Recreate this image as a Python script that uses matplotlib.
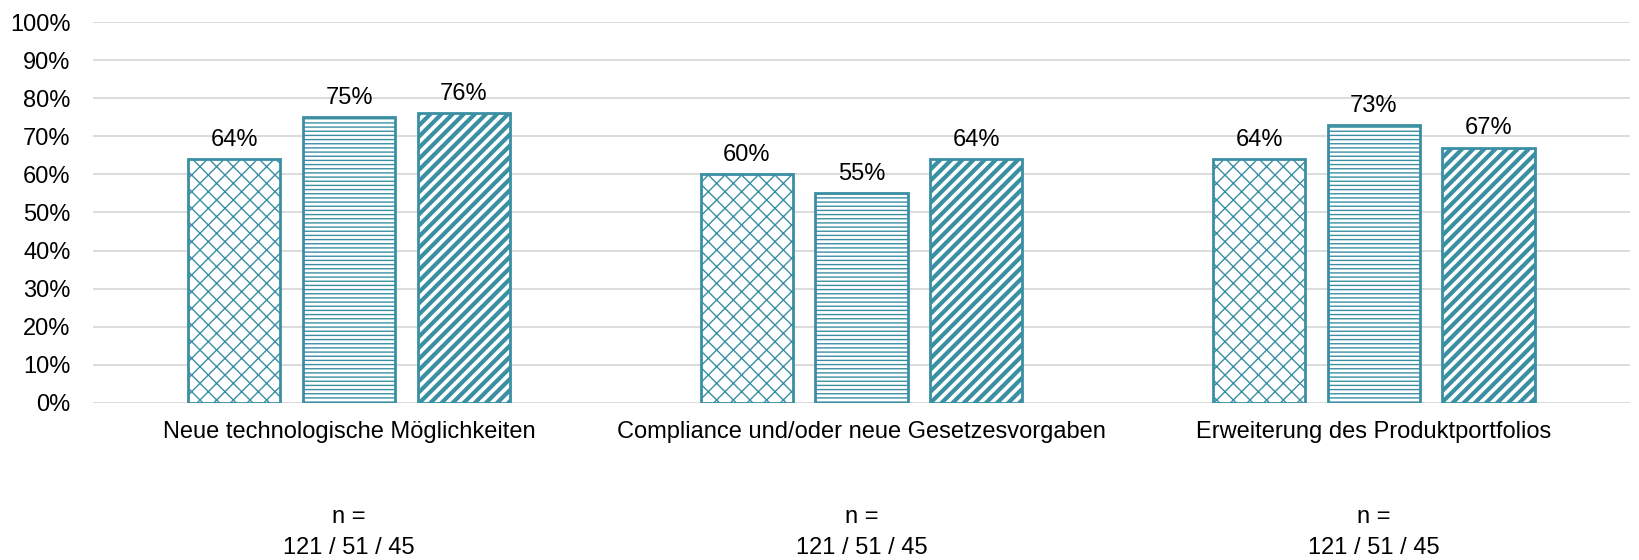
import matplotlib.pyplot as plt
import numpy as np

categories = ["Neue technologische Möglichkeiten",
              "Compliance und/oder neue Gesetzesvorgaben",
              "Erweiterung des Produktportfolios"]
series_a = [64, 60, 64]
series_b = [75, 55, 73]
series_c = [76, 64, 67]
n_labels = ["n =\n121 / 51 / 45", "n =\n121 / 51 / 45", "n =\n121 / 51 / 45"]

teal = "#3A8FA3"
fs = 17
plt.rcParams['font.family'] = ['Liberation Sans', 'DejaVu Sans']
plt.rcParams['hatch.color'] = teal

fig = plt.figure(figsize=(16.39, 5.6), dpi=100)
ax = fig.add_axes([0.0567, 0.2804, 0.9378, 0.6803])

x = np.arange(len(categories))
w = 0.18
step = 0.224
hatches = ["xx", "----", "///"]
hatch_lw = [1.0, 1.0, 3.0]
for k, (vals, h, hl) in enumerate(zip([series_a, series_b, series_c], hatches, hatch_lw)):
    with plt.rc_context({'hatch.linewidth': hl}):
        bars = ax.bar(x + (k - 1) * step, vals, w, facecolor="white",
                      edgecolor=teal, linewidth=2, hatch=h, zorder=3)
    for b, v in zip(bars, vals):
        if hasattr(b, "set_hatch_linewidth"):
            b.set_hatch_linewidth(hl)
        ax.annotate(f"{v}%", (b.get_x() + b.get_width() / 2, v),
                    xytext=(0, 6), textcoords="offset points",
                    ha="center", va="bottom", fontsize=fs)

ax.set_xlim(-0.5, len(categories) - 0.5)
ax.set_ylim(0, 100)
ax.set_yticks(range(0, 101, 10))
ax.set_yticklabels([f"{t}%" for t in range(0, 101, 10)], fontsize=fs)
ax.set_xticks(x)
ax.set_xticklabels(categories, fontsize=fs)
ax.tick_params(axis="both", length=0)
ax.tick_params(axis="x", pad=13)
ax.tick_params(axis="y", pad=16)
ax.grid(axis="y", color="#D9D9D9", linewidth=1.3, zorder=0)
for s in ax.spines.values():
    s.set_visible(False)

for xi, lab in zip(x, n_labels):
    ax.text(xi, -0.34, lab, transform=ax.get_xaxis_transform(),
            ha="center", va="center", fontsize=fs, linespacing=1.5)

fig.savefig("out.png", dpi=100)
